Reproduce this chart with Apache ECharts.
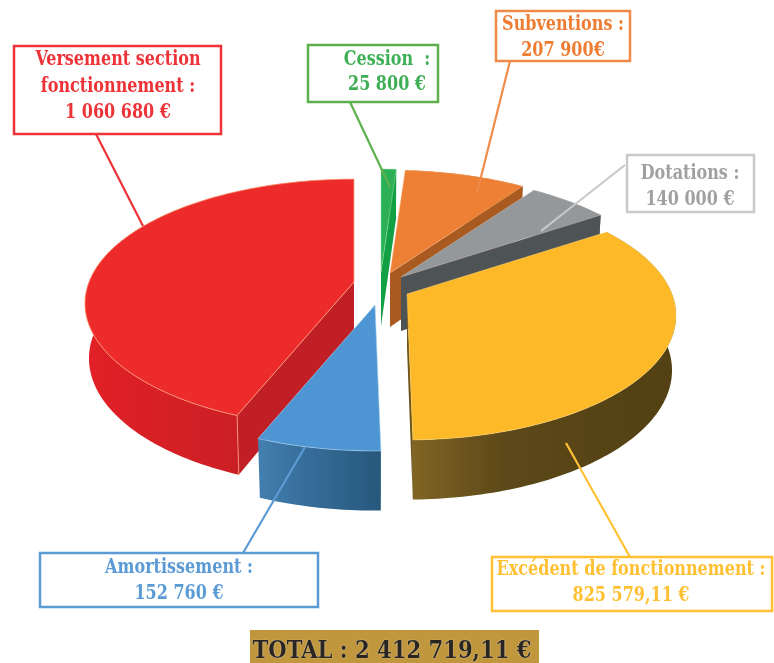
<!DOCTYPE html>
<html>
<head>
<meta charset="utf-8">
<title>Section d'investissement</title>
<style>
html, body { margin: 0; padding: 0; background: #fff; }
#chart { width: 774px; height: 663px; }
</style>
<script src="https://cdn.jsdelivr.net/npm/echarts@6/dist/echarts.min.js"></script>
</head>
<body>
<div id="chart"></div>
<script>
// clockwise from 12 o'clock
var categories = ['Cession', 'Subventions', 'Dotations', 'Excédent de fonctionnement', 'Amortissement', 'Versement section fonctionnement'];
var values = [25800, 207900, 140000, 825579.11, 152760, 1060680];
var valueLabels = ['25 800 €', '207 900€', '140 000 €', '825 579,11 €', '152 760 €', '1 060 680 €'];
var totalLabel = 'TOTAL : 2 412 719,11 €';

// look of the fake 3d
var RX = 265, RY = 120.7, PERSP = 0.173, THICK = 54;
var apexes = [[381, 272], [390, 273], [401, 277], [407, 294], [375, 305], [354, 282]];
var paintOrder = [5, 0, 1, 2, 4, 3];
var topColors = ['#2BB056', '#EE8035', '#95989A', '#FDB927', '#4E95D3', '#EE2B2B'];
var edgeColors = ['#12A044', '#A85A20', '#4E5356', '#6E5418', '#2F6690', '#C01F25'];
var wallStops = [
    ['#12A044', '#12A044', '#12A044'],
    ['#B5652A', '#A85A20', '#A85A20'],
    ['#5A5E60', '#4E5356', '#4E5356'],
    ['#806424', '#5C4818', '#534113'],
    ['#437FB0', '#376F9C', '#27587C'],
    ['#E22027', '#D32025', '#BC1E24']
];
var rimColors = ['rgba(160,225,170,0.5)', 'rgba(250,190,140,0.4)', 'rgba(210,210,210,0.4)', 'rgba(255,225,140,0.4)', 'rgba(170,210,240,0.6)', 'rgba(255,170,130,0.75)'];

var boxes = [
    { i: 5, x: 14, y: 46, w: 207, h: 88, color: '#EE3338', text: '#EE3338', cx: 118, ty: 60, step: 26.5, lines: ['Versement section', 'fonctionnement :'], from: [96, 134], to: [143, 226] },
    { i: 0, x: 308, y: 45, w: 130, h: 57, color: '#5DB14C', text: '#3FAF55', cx: 387, ty: 60, step: 24.5, lines: ['Cession  :'], from: [350, 102], to: [390, 187] },
    { i: 1, x: 496, y: 11, w: 134, h: 50, color: '#F08A48', text: '#EE7D31', cx: 563, ty: 25, step: 26, lines: ['Subventions :'], from: [510, 61], to: [477, 193] },
    { i: 2, x: 627, y: 155, w: 127, h: 57, color: '#C9C9C9', text: '#A0A0A2', cx: 690, ty: 174, step: 26, lines: ['Dotations :'], from: [625, 165], to: [541, 231] },
    { i: 4, x: 40, y: 553, w: 278, h: 54, color: '#5B9BD5', text: '#5B9BD5', cx: 179, ty: 568, step: 26, lines: ['Amortissement :'], from: [243, 553], to: [305, 447] },
    { i: 3, x: 492, y: 557, w: 280, h: 54, color: '#FFC133', text: '#FFC133', cx: 631, ty: 570, step: 26, lines: ['Excédent de fonctionnement :'], from: [630, 557], to: [566, 443] }
];

var total = values.reduce(function (a, b) { return a + b; }, 0);
var angles = [];
var acc = 0;
values.forEach(function (v) {
    angles.push([acc, acc + v / total * 2 * Math.PI]);
    acc += v / total * 2 * Math.PI;
});

function project(apex, theta, r, depth) {
    var px = Math.sin(theta) * r;
    var py = -Math.cos(theta) * r;
    var s = 1 / (1 - PERSP * py);
    return [
        apex[0] + RX * px * s * (1 - 0.015 * depth),
        apex[1] + RY * py * s + depth * THICK * (1 + 0.5 * (s - 1))
    ];
}

function arc(apex, a0, a1, depth) {
    var pts = [];
    var n = Math.max(2, Math.ceil((a1 - a0) / 0.02));
    for (var j = 0; j <= n; j++) {
        pts.push(project(apex, a0 + (a1 - a0) * j / n, 1, depth));
    }
    return pts;
}

function renderSlice(params) {
    var i = params.dataIndex;
    var apex = apexes[i];
    var a0 = angles[i][0], a1 = angles[i][1];
    var z = paintOrder.indexOf(i) * 10;
    var outerTop = arc(apex, a0, a1, 0);
    var outerBottom = arc(apex, a0, a1, 1).reverse();
    var apexLow = project(apex, 0, 0, 1);

    function edge(a) {
        return {
            type: 'polygon', z2: z + 1,
            shape: { points: [apex, project(apex, a, 1, 0), project(apex, a, 1, 1), apexLow] },
            style: { fill: edgeColors[i] }
        };
    }

    var children = [{
        type: 'polygon', z2: z,
        shape: { points: outerTop.concat(outerBottom) },
        style: {
            fill: new echarts.graphic.LinearGradient(0, 0, 1, 0, [
                { offset: 0, color: wallStops[i][0] },
                { offset: 0.35, color: wallStops[i][1] },
                { offset: 1, color: wallStops[i][2] }
            ])
        }
    }];
    // only the cut faces turned to the viewer are drawn
    if (Math.sin(a0) < -0.001) {
        var seamTop = project(apex, a0, 1, 0);
        var seamLow = project(apex, a0, 1, 1);
        children.push(edge(a0));
        children.push({
            type: 'line', z2: z + 2,
            shape: { x1: seamTop[0], y1: seamTop[1], x2: seamLow[0], y2: seamLow[1] },
            style: { stroke: rimColors[i], lineWidth: 1 }
        });
    }
    if (Math.sin(a1) > 0.001) {
        children.push(edge(a1));
    }
    children.push({
        type: 'polygon', z2: z + 3,
        shape: { points: [apex].concat(outerTop) },
        style: { fill: topColors[i], stroke: rimColors[i], lineWidth: 1 }
    });
    return { type: 'group', children: children };
}

var FONT = '"DejaVu Serif Condensed", "Liberation Serif", serif';
var graphics = [];
boxes.forEach(function (b) {
    graphics.push({
        type: 'line', silent: true, z: 20,
        shape: { x1: b.from[0], y1: b.from[1], x2: b.to[0], y2: b.to[1] },
        style: { stroke: b.color, lineWidth: 2.2 }
    });
    graphics.push({
        type: 'rect', silent: true, z: 21,
        shape: { x: b.x, y: b.y, width: b.w, height: b.h },
        style: { fill: '#fff', stroke: b.color, lineWidth: 2.5 }
    });
    b.lines.concat([valueLabels[b.i]]).forEach(function (t, k) {
        graphics.push({
            type: 'text', silent: true, z: 22,
            x: b.cx, y: b.ty + k * b.step, scaleX: 0.89,
            style: { text: t, fill: b.text, font: 'bold 20px ' + FONT, align: 'center', verticalAlign: 'middle' }
        });
    });
});
graphics.push({
    type: 'rect', silent: true, z: 21,
    shape: { x: 250, y: 630, width: 289, height: 33 },
    style: { fill: '#C1973D' }
});
graphics.push({
    type: 'text', silent: true, z: 22,
    x: 392, y: 651, scaleX: 0.94,
    style: {
        text: totalLabel, fill: '#2A2520', font: 'bold 25px ' + FONT, align: 'center', verticalAlign: 'middle',
        textShadowColor: '#fff', textShadowBlur: 1
    }
});

var chart = echarts.init(document.getElementById('chart'), null, { renderer: 'canvas' });
chart.setOption({
    animation: false,
    backgroundColor: '#fff',
    graphic: graphics,
    series: [{
        type: 'custom',
        coordinateSystem: 'none',
        silent: true,
        renderItem: renderSlice,
        data: values.map(function (v, i) { return { name: categories[i], value: v }; })
    }]
});
</script>
</body>
</html>
